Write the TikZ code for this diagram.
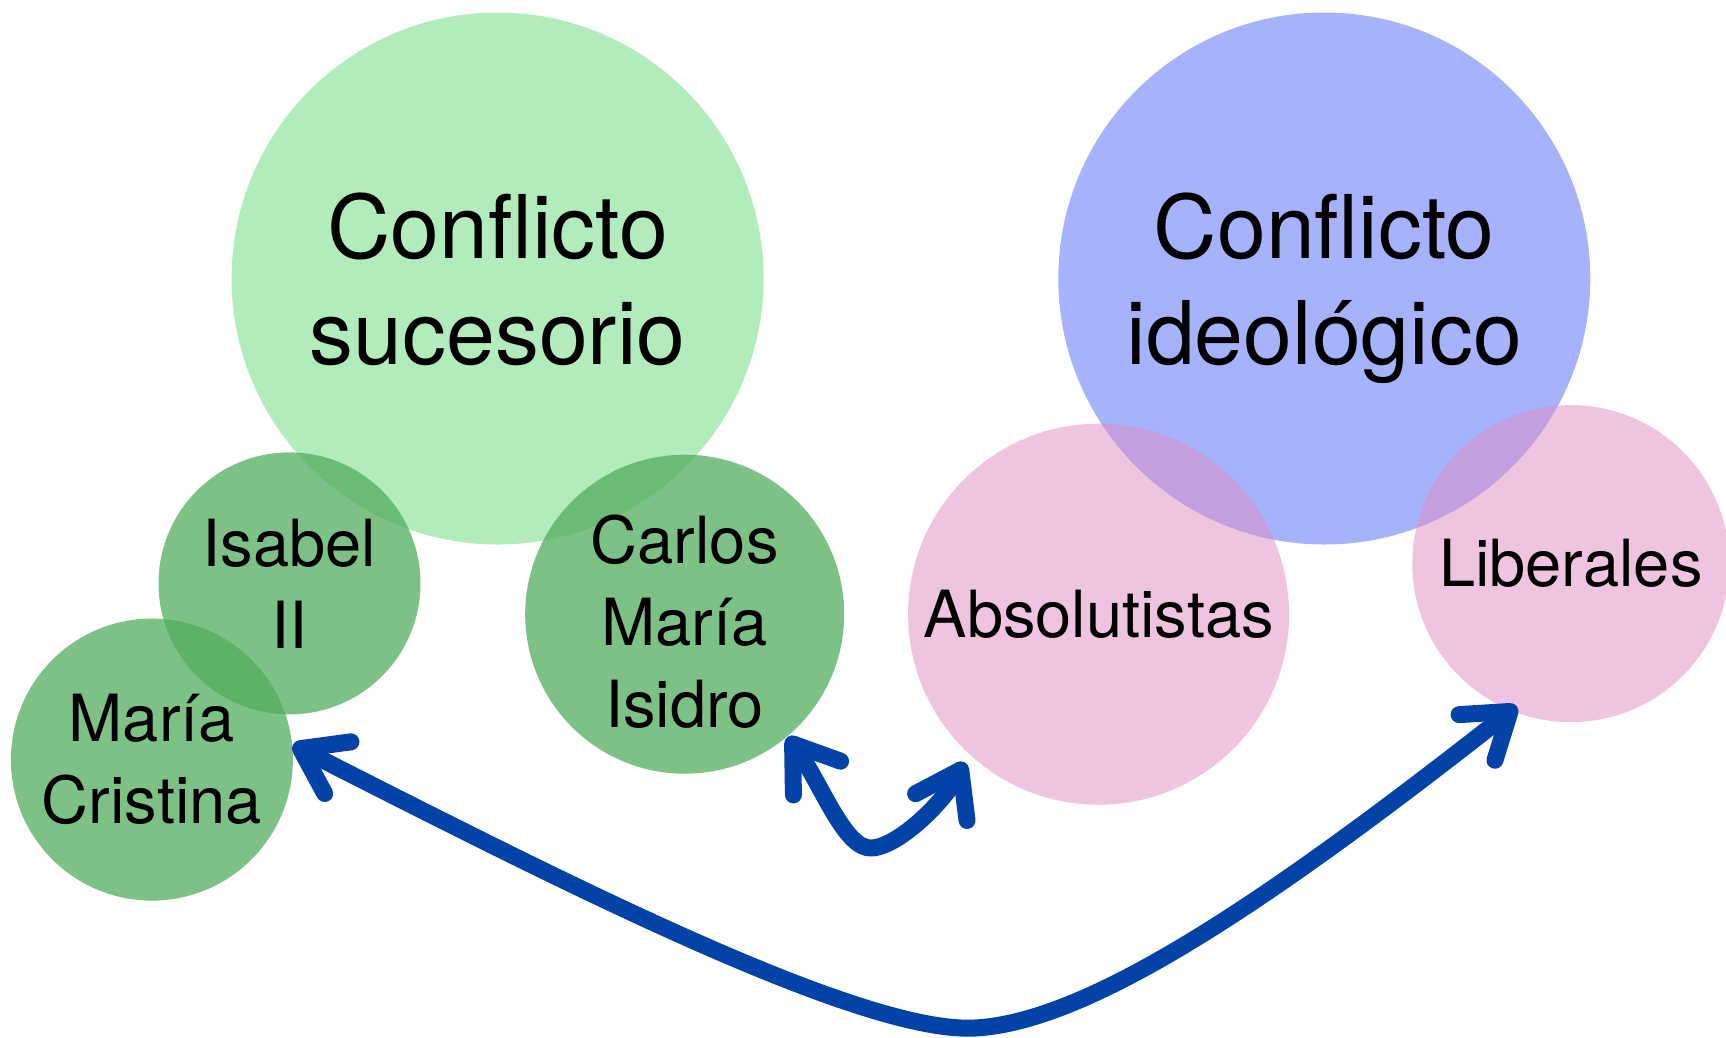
\documentclass[tikz,border=0pt]{standalone}
\usepackage{fontspec}
\setmainfont{TeX Gyre Heros}
\usetikzlibrary{arrows.meta}
\definecolor{verdeclaro}{HTML}{B3ECBC}
\definecolor{azulconf}{HTML}{A6B2FC}
\definecolor{verdepers}{HTML}{51AC5C}
\definecolor{rosabando}{HTML}{DE8FC6}
\definecolor{azultrazo}{HTML}{0343A8}
\tikzset{
    conflicto/.style={circle, inner sep=0pt, align=center, text depth=0pt,
        font=\fontsize{25pt}{30pt}\selectfont},
    persona/.style={circle, inner sep=0pt, align=center, fill=verdepers,
        fill opacity=0.74, text opacity=1,
        font=\fontsize{18.5pt}{23.3pt}\selectfont},
    bando/.style={circle, inner sep=0pt, align=center, fill=rosabando,
        fill opacity=0.53, text opacity=1,
        font=\fontsize{18.5pt}{23.3pt}\selectfont},
    trazo/.style={draw=azultrazo, line width=1.7mm, line cap=round,
        line join=round,
        {Straight Barb[round, length=4.2mm, width=5.8mm]}-{Straight Barb[round, length=4.2mm, width=5.8mm]}}
}

\begin{document}
\begin{tikzpicture}[x=0.1mm, y=-0.1mm]
    \useasboundingbox (0,0) rectangle (1726,1037);
    \path (497.6,278.5) node[conflicto, fill=verdeclaro,
        minimum size=53.2mm](sucesorio){Conflicto\\sucesorio};
    \path (289.5,583.4) node[persona, minimum size=26.2mm](isabel){Isabel\\II};
    \path (151.9,759.6) node[persona, minimum size=28.2mm](mcristina){María\\Cristina};
    \path (684.7,614.2) node[persona,
        minimum size=31.9mm](carlos){\rule{0pt}{6.4mm}Carlos\\María\\Isidro};
    \path (1324.3,278.5) node[conflicto, fill=azulconf,
        minimum size=53.2mm](ideologico){Conflicto\\ideológico};
    \path (1098.6,614.2) node[bando, minimum size=38.1mm](absolut){Absolutistas};
    \path (1570.8,563.6) node[bando, minimum size=31.7mm](liberales){Liberales};
    \draw[trazo] (mcristina.6) .. controls (559,880) and (860,1034)
        .. (975,1028) .. controls (1090,1022) and (1270,900)
        .. ([shift={(3,-6)}]liberales.249.5);
    \draw[trazo] (carlos.-50.4) .. controls (822,785) and (845,850)
        .. (872,848) .. controls (900,846) and (945,800)
        .. ([shift={(-6,6)}]absolut.228);
\end{tikzpicture}
\end{document}
